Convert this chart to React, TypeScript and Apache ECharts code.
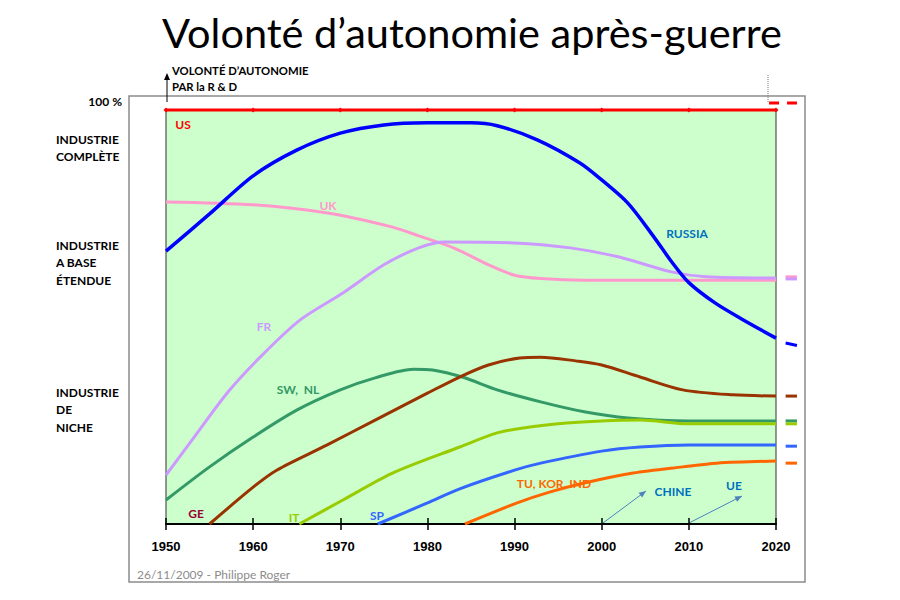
import React, { useEffect, useRef } from "react";
import * as echarts from "echarts";

// ---------- DATA ----------
const xTicks = [1950, 1960, 1970, 1980, 1990, 2000, 2010, 2020];

const usYears = [1950, 1960, 1970, 1980, 1990, 2000, 2010, 2020];
const usValues = [100, 100, 100, 100, 100, 100, 100, 100];

const russiaYears = [1950, 1955, 1960, 1965, 1970, 1975, 1980, 1985, 1988, 1992.6, 1997.5, 2000, 2003, 2006, 2008, 2010, 2013, 2016, 2020];
const russiaValues = [65.9, 74.9, 84.1, 90.3, 94.4, 96.4, 96.9, 96.9, 96.2, 92.8, 87.2, 83.1, 77.5, 69.3, 63.4, 58.3, 53.4, 49.6, 44.9];

const ukYears = [1950, 1960, 1968.5, 1976, 1979, 1983, 1987, 1990, 1993, 1998, 2020];
const ukValues = [77.8, 77.1, 75.1, 71.7, 69.6, 66.7, 62.6, 60.1, 59.3, 58.9, 58.9];

const frYears = [1950, 1953, 1957, 1960.8, 1965.4, 1970.3, 1975, 1979, 1982, 1990, 1996.4, 2002, 2008, 2012, 2020];
const frValues = [11.8, 20.3, 31.6, 40.3, 49.3, 55.8, 62.6, 66.7, 68.1, 67.9, 66.7, 64.5, 60.9, 59.7, 59.4];

const swYears = [1950, 1955, 1960, 1965, 1970, 1974, 1978.4, 1980.6, 1984, 1988, 1993, 1998, 2003, 2010, 2020];
const swValues = [5.8, 13.8, 21.0, 27.5, 32.4, 35.3, 37.4, 37.2, 35.5, 32.4, 29.5, 27.1, 25.6, 24.9, 24.9];

const geYears = [1955, 1960, 1962.7, 1968.5, 1974, 1980, 1983.7, 1987, 1990.6, 1993, 1997, 2000, 2004.4, 2009.3, 2015, 2020];
const geValues = [0, 8.9, 13.0, 19.1, 25.1, 31.6, 35.5, 38.4, 40.1, 40.3, 39.4, 38.4, 35.5, 32.4, 31.2, 30.9];

const itYears = [1965.3, 1970.3, 1976, 1983.7, 1988, 1991, 1996, 2000, 2004.4, 2010, 2020];
const itValues = [0, 5.8, 12.3, 18.6, 22.0, 23.2, 24.4, 24.9, 25.1, 24.2, 24.2];

const spYears = [1974.3, 1980, 1983.7, 1990, 1993, 2000, 2004.4, 2010, 2020];
const spValues = [0, 5.1, 8.5, 13.0, 14.7, 17.6, 18.6, 19.1, 19.1];

const tuYears = [1984.3, 1990.3, 1994, 1998, 2003.6, 2009.3, 2013.2, 2020];
const tuValues = [0, 5.1, 7.7, 9.9, 12.3, 13.8, 14.7, 15.2];

// projections beyond 2020 (short dashes right of the plot)
const extYears = [2021.1, 2022.4];
const usExtYears = [2019.2, 2022.4];
const usExt = [101.7, 101.7];
const russiaExt = [43.7, 43.1];
const ukExt = [59.7, 59.7];
const frExt = [59.2, 59.2];
const geExt = [30.9, 30.9];
const swExt = [24.9, 24.9];
const itExt = [24.2, 24.2];
const spExt = [18.8, 18.8];
const tuExt = [14.7, 14.7];

const COLORS = {
  us: "#FF0000",
  russia: "#0000FF",
  uk: "#FF99CC",
  fr: "#CC99FF",
  sw: "#339966",
  ge: "#993300",
  it: "#99CC00",
  sp: "#3366FF",
  tu: "#FF6600",
};

const LBL = "Lato, 'Open Sans', sans-serif";

function pairs(xs: number[], ys: number[]) {
  return xs.map((x, i) => [x, ys[i]]);
}

function arrowHead(x1: number, y1: number, x2: number, y2: number, len: number, w: number) {
  const dx = x2 - x1, dy = y2 - y1;
  const d = Math.sqrt(dx * dx + dy * dy);
  const ux = dx / d, uy = dy / d;
  const bx = x2 - ux * len, by = y2 - uy * len;
  return [[x2, y2], [bx - uy * w, by + ux * w], [bx + uy * w, by - ux * w]];
}

export default function App() {
  const ref = useRef<HTMLDivElement>(null);

  useEffect(() => {
    if (!ref.current) return;
    const chart = echarts.init(ref.current, undefined, { renderer: "svg" });

    const mainLine = (name: string, xs: number[], ys: number[], color: string, width = 3) => ({
      name,
      type: "line",
      data: pairs(xs, ys),
      smooth: 0.3,
      showSymbol: false,
      silent: true,
      lineStyle: { color, width },
      z: 3,
    });
    const extLine = (ys: number[], color: string, width = 3) => ({
      type: "line",
      xAxisIndex: 2,
      yAxisIndex: 1,
      data: pairs(extYears, ys),
      showSymbol: false,
      silent: true,
      clip: false,
      lineStyle: { color, width },
      z: 3,
    });

    const text = (t: string, x: number, y: number, fill: string, size = 12, align = "center") => ({
      type: "text",
      x,
      y,
      silent: true,
      style: {
        text: t,
        fill,
        font: `bold ${size}px ${LBL}`,
        textAlign: align,
        textVerticalAlign: "middle",
      },
    });

    const leftBlock = (lines: string[], y0: number) =>
      lines.map((l, i) => text(l, 56, y0 + i * 17.5, "#000", 12, "left"));

    const arrow1 = [603, 523, 646, 491];
    const arrow2 = [689, 523, 742, 496];

    const option: any = {
      animation: false,
      backgroundColor: "#FFFFFF",
      grid: [
        {
          left: 166,
          right: 124,
          top: 110,
          bottom: 76,
          show: true,
          backgroundColor: "#CCFFCC",
          borderColor: "#333333",
          borderWidth: 1,
          outerBoundsMode: "none",
        },
        {
          left: 766,
          width: 34,
          top: 110,
          bottom: 76,
          show: false,
          outerBoundsMode: "none",
        },
      ],
      xAxis: [
        {
          type: "value",
          gridIndex: 0,
          min: 1950,
          max: 2020,
          interval: 10,
          axisLine: { show: true, lineStyle: { color: "#000", width: 2 } },
          axisTick: { show: true, length: 6, lineStyle: { color: "#000", width: 1.5 } },
          splitLine: { show: false },
          axisLabel: {
            margin: 16,
            color: "#000",
            fontFamily: "'Liberation Sans', Arial, sans-serif",
            fontWeight: "bold",
            fontSize: 13,
            formatter: (v: number) => String(v),
          },
        },
        {
          type: "value",
          gridIndex: 0,
          min: 1950,
          max: 2020,
          interval: 10,
          position: "bottom",
          axisLine: { show: false },
          axisTick: { show: true, inside: true, length: 6, lineStyle: { color: "#000", width: 1.5 } },
          splitLine: { show: false },
          axisLabel: { show: false },
        },
        {
          type: "value",
          gridIndex: 1,
          min: 2018.85,
          max: 2022.75,
          show: false,
        },
      ],
      yAxis: [
        { type: "value", gridIndex: 0, min: 0, max: 100, show: false },
        { type: "value", gridIndex: 1, min: 0, max: 100, show: false },
      ],
      series: [
        {
          name: "US",
          type: "line",
          data: pairs(usYears, usValues),
          showSymbol: true,
          symbol: "diamond",
          symbolSize: 5,
          itemStyle: { color: COLORS.us },
          lineStyle: { color: COLORS.us, width: 3 },
          silent: true,
          clip: false,
          z: 4,
        },
        mainLine("UK", ukYears, ukValues, COLORS.uk),
        mainLine("FR", frYears, frValues, COLORS.fr),
        mainLine("SW, NL", swYears, swValues, COLORS.sw),
        mainLine("GE", geYears, geValues, COLORS.ge),
        mainLine("IT", itYears, itValues, COLORS.it),
        mainLine("SP", spYears, spValues, COLORS.sp),
        mainLine("TU, KOR, IND", tuYears, tuValues, COLORS.tu),
        mainLine("RUSSIA", russiaYears, russiaValues, COLORS.russia, 3.5),
        {
          type: "line",
          xAxisIndex: 2,
          yAxisIndex: 1,
          data: pairs(usExtYears, usExt),
          showSymbol: false,
          silent: true,
          clip: false,
          lineStyle: { color: COLORS.us, width: 3, type: [10, 8] },
          z: 3,
        },
        extLine(russiaExt, COLORS.russia),
        extLine(ukExt, COLORS.uk),
        extLine(frExt, COLORS.fr),
        extLine(geExt, COLORS.ge),
        extLine(swExt, COLORS.sw),
        extLine(itExt, COLORS.it),
        extLine(spExt, COLORS.sp),
        extLine(tuExt, COLORS.tu),
      ],
      graphic: [
        // outer frame
        {
          type: "rect",
          shape: { x: 129, y: 96, width: 676, height: 486 },
          style: { fill: "none", stroke: "#8C8C8C", lineWidth: 1.5 },
          silent: true,
          z: -10,
        },
        // title
        {
          type: "text",
          x: 472,
          y: 32,
          silent: true,
          style: {
            text: "Volonté d’autonomie après-guerre",
            fill: "#000",
            font: `41.5px ${LBL}`,
            textAlign: "center",
            textVerticalAlign: "middle",
          },
        },
        // y-axis arrow
        {
          type: "line",
          shape: { x1: 167, y1: 102, x2: 167, y2: 78 },
          style: { stroke: "#000", lineWidth: 1 },
          silent: true,
        },
        {
          type: "polygon",
          shape: { points: arrowHead(167, 102, 167, 73, 7, 3) },
          style: { fill: "#000" },
          silent: true,
        },
        text("VOLONTÉ D’AUTONOMIE", 172, 70, "#000", 11.3, "left"),
        text("PAR la R & D", 172, 86, "#000", 11.3, "left"),
        // dotted mark top-right
        {
          type: "line",
          shape: { x1: 768, y1: 75, x2: 768, y2: 103 },
          style: { stroke: "#777", lineWidth: 1, lineDash: [1, 1] },
          silent: true,
        },
        // left labels
        text("100 %", 122, 101, "#000", 12, "right"),
        ...leftBlock(["INDUSTRIE", "COMPLÈTE"], 139),
        ...leftBlock(["INDUSTRIE", "A BASE", "ÉTENDUE"], 245),
        ...leftBlock(["INDUSTRIE", "DE", "NICHE"], 392),
        // series labels
        text("US", 183, 124, COLORS.us),
        text("UK", 328, 205, COLORS.uk),
        text("RUSSIA", 687, 233, "#0070C0"),
        text("FR", 264, 326, COLORS.fr),
        text("SW,  NL", 298, 389, COLORS.sw),
        text("GE", 196, 513, "#990033"),
        text("IT", 294, 517, COLORS.it),
        text("SP", 377, 515, COLORS.sp),
        text("TU, KOR, IND", 554, 483, COLORS.tu),
        text("CHINE", 673, 491, "#0070C0"),
        text("UE", 734, 485, "#0070C0"),
        // arrows to CHINE / UE
        {
          type: "line",
          shape: { x1: arrow1[0], y1: arrow1[1], x2: arrow1[2], y2: arrow1[3] },
          style: { stroke: "#4F81BD", lineWidth: 1 },
          silent: true,
        },
        {
          type: "polygon",
          shape: { points: arrowHead(arrow1[0], arrow1[1], arrow1[2], arrow1[3], 7, 3) },
          style: { fill: "#4F81BD" },
          silent: true,
        },
        {
          type: "line",
          shape: { x1: arrow2[0], y1: arrow2[1], x2: arrow2[2], y2: arrow2[3] },
          style: { stroke: "#4F81BD", lineWidth: 1 },
          silent: true,
        },
        {
          type: "polygon",
          shape: { points: arrowHead(arrow2[0], arrow2[1], arrow2[2], arrow2[3], 7, 3) },
          style: { fill: "#4F81BD" },
          silent: true,
        },
        // footer
        {
          type: "text",
          x: 137,
          y: 574,
          silent: true,
          style: {
            text: "26/11/2009 - Philippe Roger",
            fill: "#8C8C8C",
            font: `12px ${LBL}`,
            textAlign: "left",
            textVerticalAlign: "middle",
          },
        },
      ],
    };

    chart.setOption(option);
    return () => chart.dispose();
  }, []);

  return (
    <div
      ref={ref}
      style={{ position: "fixed", left: 0, top: 0, width: 900, height: 600 }}
    />
  );
}
